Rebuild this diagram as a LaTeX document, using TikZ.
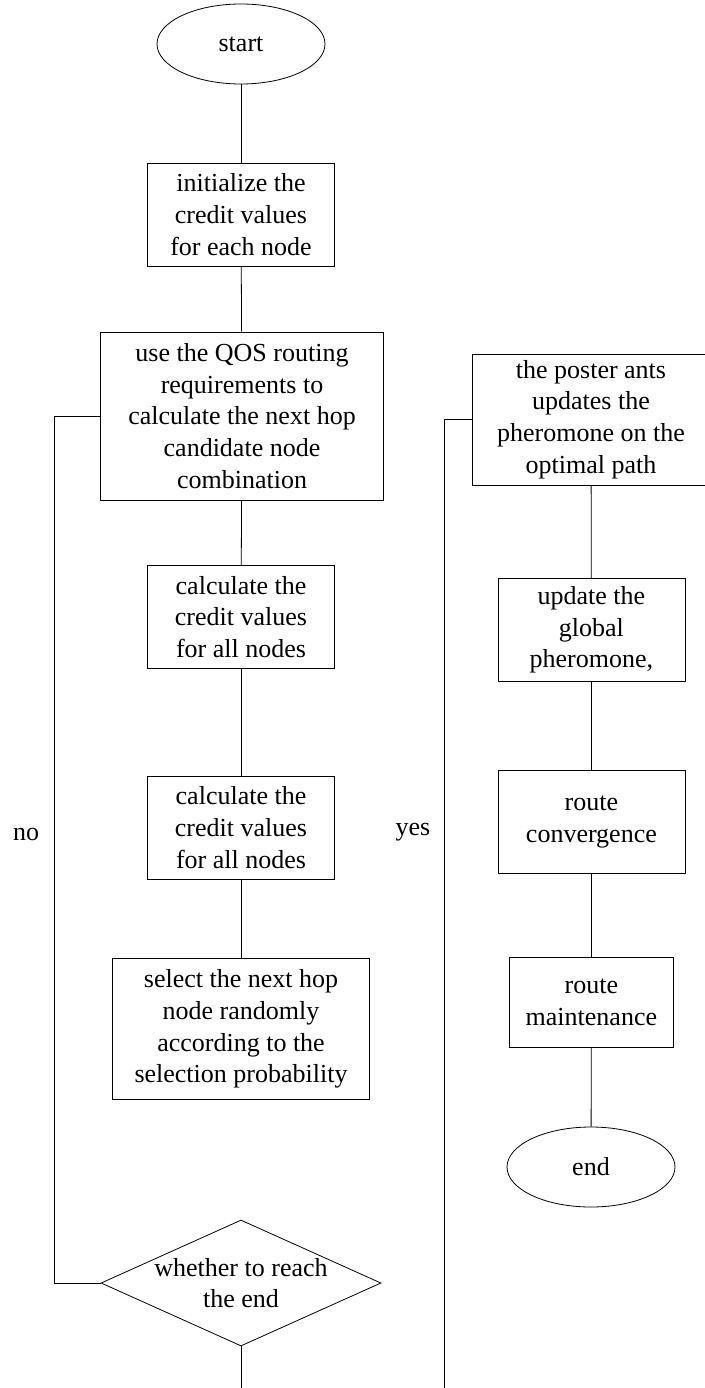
\documentclass[tikz,border=0pt]{standalone}
\usepackage{fontspec}
\setmainfont{Liberation Serif}
\usetikzlibrary{shapes.geometric}
\tikzset{
  box/.style={draw, rectangle, align=center, inner sep=0pt, line width=0.8pt},
  term/.style={draw, ellipse, inner sep=0pt, minimum width=168pt, minimum height=80pt, line width=0.8pt},
  dec/.style={draw, diamond, inner sep=0pt, minimum width=280pt, minimum height=126pt, line width=0.8pt},
  conn/.style={line width=0.8pt},
  lbl/.style={inner sep=0pt, anchor=base}
}
\begin{document}
\begin{tikzpicture}[x=1pt, y=-1pt, font=\fontsize{26}{31.7}\selectfont]
\fill[white] (0,0) rectangle (704,1388);
\useasboundingbox (0,0) rectangle (704,1388);
% left column
\node[term] (start) at (241,44) {start};
\node[box, minimum width=187pt, minimum height=103pt] (init) at (241,214.5) {initialize the\\credit values\\for each node};
\node[box, minimum width=282.5pt, minimum height=168pt] (qos) at (242,416) {use the QOS routing\\requirements to\\calculate the next hop\\candidate node\\combination};
\node[box, minimum width=187pt, minimum height=102.6pt] (calca) at (241,617) {calculate the\\credit values\\for all nodes};
\node[box, minimum width=187pt, minimum height=103pt] (calcb) at (241,827.5) {calculate the\\credit values\\for all nodes};
\node[box, minimum width=257pt, minimum height=141pt] (select) at (241,1029) {select the next hop\\node randomly\\according to the\\selection probability};
\node[dec] (dec) at (241,1283) {};
\node[align=center, inner sep=0pt] (dectext) at (241,1283) {whether to reach\\the end};
% right column
\node[box, minimum width=238pt, minimum height=131pt] (poster) at (591,419.5) {the poster ants\\updates the\\pheromone on the\\optimal path};
\node[box, minimum width=187pt, minimum height=102.6pt] (global) at (591.4,630) {update the\\global\\pheromone,};
\node[box, minimum width=187pt, minimum height=102.7pt] (conv) at (591.4,821.7) {route\\convergence};
\node[box, minimum width=163.3pt, minimum height=90pt] (maint) at (591.4,1002.3) {route\\maintenance};
\node[term] (end) at (591,1167) {end};
% labels
\node[lbl] (nolbl) at (26,840.5) {no};
\node[lbl] (yeslbl) at (413,835) {yes};
% coordinates
\coordinate (nocorner) at (54.3,1283);
\coordinate (yesfoot) at (444.5,1388);
\coordinate (decfoot) at (241,1388);
% connectors
\draw[conn] (start) -- (init);
\draw[conn] (init) -- (qos);
\draw[conn] (qos) -- (calca);
\draw[conn] (calca) -- (calcb);
\draw[conn] (calcb) -- (select);
\draw[conn] (dec.south) -- (decfoot);
\draw[conn] (dec.west) -- (nocorner) |- (qos.west);
\draw[conn] (yesfoot) |- (poster.west);
\draw[conn] (poster) -- (global);
\draw[conn] (global) -- (conv);
\draw[conn] (conv) -- (maint);
\draw[conn] (maint) -- (end);
\end{tikzpicture}
\end{document}
